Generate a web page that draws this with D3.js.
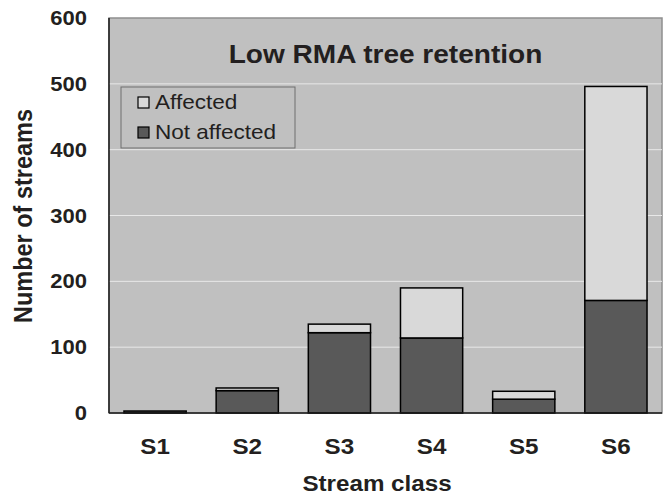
<!DOCTYPE html>
<html><head><meta charset="utf-8">
<script src="https://cdn.jsdelivr.net/npm/d3@7/dist/d3.min.js"></script>
<style>body{margin:0;background:#fff}svg{display:block}text{font-family:"Liberation Sans",Arial,sans-serif;fill:#231f20}</style>
</head><body><svg id="c" width="666" height="500"></svg>
<script>
const categories = ["S1","S2","S3","S4","S5","S6"];
const notAffected = [3,34,122,114,21,171];
const affected = [0,4,13,76,12,325];
const yTicks = [0,100,200,300,400,500,600];
const seriesNames = ["Affected","Not affected"];
const chartTitle = "Low RMA tree retention";

const svg = d3.select("#c");
const L = 109, R = 662, T = 18, B = 413;
const sx = 1.1;
const x = d3.scaleBand().domain(categories).range([L, R]).paddingInner(0.325).paddingOuter(0.1625);
const y = d3.scaleLinear().domain([0, 600]).range([B, T]);

function txt(g, s, px, py, size, weight, anchor) {
  return g.append("text").attr("transform", `translate(${px},${py}) scale(${sx},1)`)
    .attr("text-anchor", anchor).style("font-size", size + "px").style("font-weight", weight).text(s);
}

svg.append("rect").attr("x", L).attr("y", T).attr("width", R - L).attr("height", B - T)
  .attr("fill", "#c0c0c0").attr("stroke", "#8f8f8f").attr("stroke-width", 1.5);

svg.append("g").selectAll("line").data(yTicks.filter(d => d > 0 && d < 600)).join("line")
  .attr("x1", L).attr("x2", R).attr("y1", d => y(d)).attr("y2", d => y(d))
  .attr("stroke", "#e8e8e8").attr("stroke-width", 1);

const stacked = categories.map((c, i) => ({c, na: notAffected[i], a: affected[i]}));
const gb = svg.append("g");
gb.selectAll(".na").data(stacked).join("rect")
  .attr("x", d => x(d.c)).attr("width", x.bandwidth())
  .attr("y", d => y(d.na)).attr("height", d => y(0) - y(d.na))
  .attr("fill", "#595959").attr("stroke", "#000").attr("stroke-width", 1.5);
gb.selectAll(".a").data(stacked.filter(d => d.a > 0)).join("rect")
  .attr("x", d => x(d.c)).attr("width", x.bandwidth())
  .attr("y", d => y(d.na + d.a)).attr("height", d => y(d.na) - y(d.na + d.a))
  .attr("fill", "#d9d9d9").attr("stroke", "#000").attr("stroke-width", 1.5);

// axis lines
svg.append("line").attr("x1", L).attr("x2", L).attr("y1", T).attr("y2", B).attr("stroke", "#1a1a1a").attr("stroke-width", 1.5);
svg.append("line").attr("x1", L).attr("x2", R).attr("y1", B).attr("y2", B).attr("stroke", "#1a1a1a").attr("stroke-width", 1.5);

// y tick labels
yTicks.forEach(t => txt(svg, String(t), 87, y(t) + 7, 20, "bold", "end"));
// x tick labels
categories.forEach(c => txt(svg, c, x(c) + x.bandwidth() / 2, 454, 22, "bold", "middle"));

// axis titles
txt(svg, "Stream class", 377, 491, 22, "bold", "middle");
svg.append("text").attr("transform", `translate(32,216) rotate(-90) scale(1,${sx})`)
  .attr("text-anchor", "middle").style("font-size", "23.5px").style("font-weight", "bold").text("Number of streams");

// title
txt(svg, chartTitle, (L + R) / 2, 63, 25.5, "bold", "middle");

// legend
const lg = svg.append("g");
lg.append("rect").attr("x", 121).attr("y", 87).attr("width", 174).attr("height", 61)
  .attr("fill", "#c0c0c0").attr("stroke", "#6e6e6e").attr("stroke-width", 1);
const legColors = ["#d9d9d9", "#595959"];
seriesNames.forEach((n, i) => {
  lg.append("rect").attr("x", 138).attr("y", 97 + i * 30).attr("width", 11).attr("height", 11)
    .attr("fill", legColors[i]).attr("stroke", "#000").attr("stroke-width", 1.2);
  txt(lg, n, 155, 109 + i * 30, 20.5, "normal", "start");
});
</script></body></html>
